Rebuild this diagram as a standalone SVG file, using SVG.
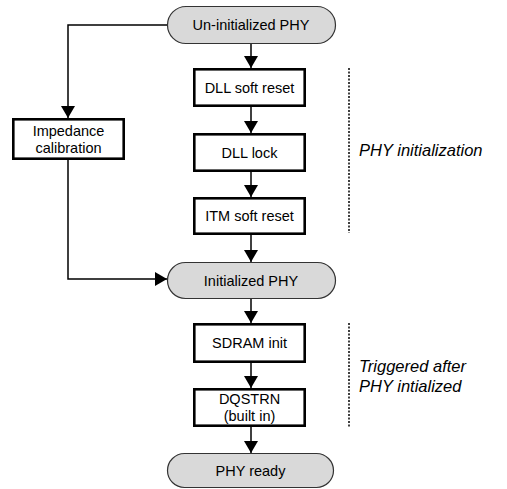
<svg xmlns="http://www.w3.org/2000/svg" width="507" height="489" viewBox="0 0 507 489">
<defs>
<marker id="ah" viewBox="0 0 12 14" refX="12" refY="7" markerWidth="12" markerHeight="14" markerUnits="userSpaceOnUse" orient="auto">
<path d="M0,0 L12,7 L0,14 z" fill="#000"/>
</marker>
<style>
.term{fill:#d9d9d9;stroke:#333;stroke-width:1.2}
.box{fill:#fff;stroke:#000;stroke-width:2.6}
.t{font-family:"Liberation Sans",Arial,sans-serif;font-size:14.5px;fill:#000;text-anchor:middle}
.side{font-family:"Liberation Sans",Arial,sans-serif;font-size:16.5px;font-style:italic;fill:#000}
.c{fill:none;stroke:#000;stroke-width:1.5;marker-end:url(#ah)}
.dot{fill:none;stroke:#000;stroke-width:1.5;stroke-dasharray:2,1.5}
</style>
</defs>
<rect width="507" height="489" fill="#fff"/>
<g id="connectors">
<path class="c" d="M251,44 V68"/>
<path class="c" d="M251,107 V133"/>
<path class="c" d="M251,172 V197"/>
<path class="c" d="M251,235 V262"/>
<path class="c" d="M251,298 V323"/>
<path class="c" d="M251,363 V388"/>
<path class="c" d="M251,427 V453"/>
<path class="c" d="M167,25 H68 V118"/>
<path class="c" d="M68,160 V279 H167"/>
</g>
<g id="uninit">
<rect class="term" x="167.5" y="6.5" width="168" height="37" rx="18.5"/>
<text class="t" x="251" y="30">Un-initialized PHY</text>
</g>
<g id="dllreset">
<rect class="box" x="194.3" y="69.3" width="110.4" height="36.4"/>
<text class="t" x="249.5" y="93">DLL soft reset</text>
</g>
<g id="dlllock">
<rect class="box" x="194.3" y="134.3" width="110.4" height="36.4"/>
<text class="t" x="249.5" y="158">DLL lock</text>
</g>
<g id="itmreset">
<rect class="box" x="194.3" y="198.3" width="110.4" height="35.4"/>
<text class="t" x="249.5" y="221">ITM soft reset</text>
</g>
<g id="impedance">
<rect class="box" x="13.3" y="119.3" width="110.4" height="39.4"/>
<text class="t" x="68.5" y="136">Impedance</text>
<text class="t" x="68.5" y="153">calibration</text>
</g>
<g id="init">
<rect class="term" x="167.5" y="262.5" width="168" height="36" rx="18"/>
<text class="t" x="251" y="285.5">Initialized PHY</text>
</g>
<g id="sdram">
<rect class="box" x="194.3" y="324.3" width="110.4" height="37.4"/>
<text class="t" x="249.5" y="348">SDRAM init</text>
</g>
<g id="dqstrn">
<rect class="box" x="194.3" y="389.3" width="110.4" height="36.4"/>
<text class="t" x="249.5" y="404">DQSTRN</text>
<text class="t" x="249.5" y="421">(built in)</text>
</g>
<g id="ready">
<rect class="term" x="167.5" y="453.5" width="166" height="34" rx="17"/>
<text class="t" x="250.5" y="475.5">PHY ready</text>
</g>
<g id="annotations">
<path class="dot" d="M349,68 V233"/>
<text class="side" x="359" y="156">PHY initialization</text>
<path class="dot" d="M349,323 V427"/>
<text class="side" x="359" y="372">Triggered after</text>
<text class="side" x="359" y="392">PHY intialized</text>
</g>
</svg>
